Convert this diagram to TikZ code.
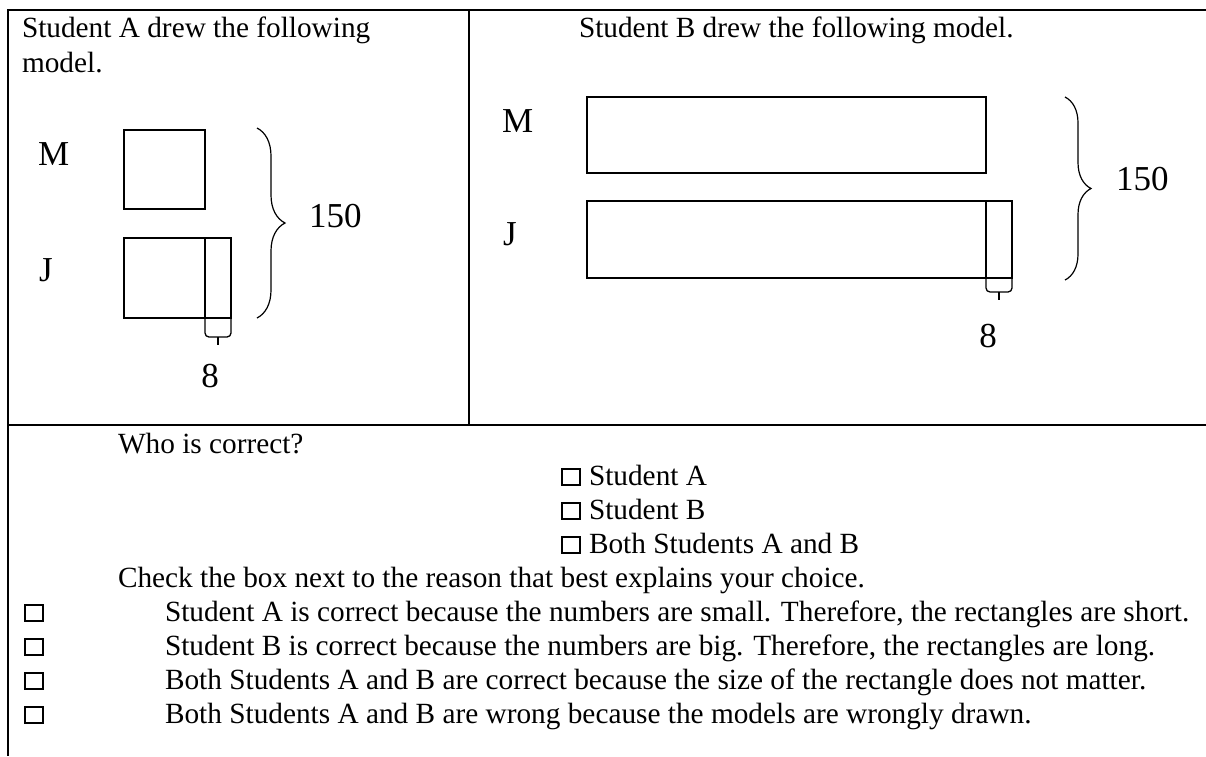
\documentclass[tikz,border=0pt]{standalone}
\usepackage{fontspec}
\setmainfont{Liberation Serif}
\usetikzlibrary{positioning,decorations.pathreplacing}

\begin{document}
\begin{tikzpicture}[x=1pt,y=-1pt,
  every node/.style={font=\fontsize{29.3}{34}\selectfont, inner sep=0pt, outer sep=0pt},
  txt/.style={anchor=base west},
  lbl/.style={font=\fontsize{35}{40}\selectfont},
  tbl/.style={line width=2pt},
  bar/.style={draw, line width=1.3pt, anchor=north west},
  brc/.style={line width=1.2pt, decorate, decoration={brace, amplitude=28pt}},
  smallbrc/.style={line width=1.3pt, rounded corners=4pt},
  chk/.style={draw, line width=2.3pt, minimum width=18pt, minimum height=16pt, anchor=south west}]
\useasboundingbox (0,0) rectangle (1206,756);

% table
\draw[tbl] (7,10) -- (1206,10);
\draw[tbl] (8,9) -- (8,756);
\draw[tbl] (469,10) -- (469,425);
\draw[tbl] (7,425) -- (1206,425);

% student A
\node[txt] (capA1) at (22,37) {Student A drew the following};
\node[txt] (capA2) at (22,72) {model.};
\node[txt, lbl] (lblMA) at (38,165) {M};
\node[txt, lbl] (lblJA) at (39,281) {J};
\node[bar, minimum width=81pt, minimum height=79pt] (mA) at (124,130) {};
\node[bar, minimum width=81pt, minimum height=80pt] (jA) at (124,238) {};
\node[bar, minimum width=26pt, minimum height=80pt] (jA8) at (jA.north east) {};
\coordinate (topA) at (257,128);
\coordinate (botA) at (257,318);
\draw[brc] (topA) -- (botA);
\node[txt, lbl] (sumA) at (309,227) {150};
\draw[smallbrc] (jA8.south west) -- ++(0,19) -- ++(26,0) -- (jA8.south east);
\draw[line width=2pt] ([yshift=-19pt]jA8.south) -- ++(0,8);
\node[lbl, anchor=base] (difA) at (210,387) {8};

% student B
\node[txt] (capB) at (579,37) {Student B drew the following model.};
\node[txt, lbl] (lblMB) at (502,132) {M};
\node[txt, lbl] (lblJB) at (503,245) {J};
\node[bar, minimum width=399pt, minimum height=76pt] (mB) at (587,97) {};
\node[bar, minimum width=399pt, minimum height=77pt] (jB) at (587,201) {};
\node[bar, minimum width=26pt, minimum height=77pt] (jB8) at (jB.north east) {};
\coordinate (topB) at (1065,97);
\coordinate (botB) at (1065,280);
\draw[brc, decoration={amplitude=26pt}] (topB) -- (botB);
\node[txt, lbl] (sumB) at (1116,190) {150};
\draw[smallbrc] (jB8.south west) -- ++(0,14) -- ++(26,0) -- (jB8.south east);
\draw[line width=2pt] ([yshift=-14pt]jB8.south) -- ++(0,8);
\node[lbl, anchor=base] (difB) at (988,347) {8};

% question
\node[txt] (who) at (118,453) {Who is correct?};
\foreach \t/\i in {{Student A}/0, {Student B}/1, {Both Students A and B}/2}{
  \pgfmathsetmacro\yy{485+34*\i}
  \node[chk] (opt\i) at (562,\yy) {};
  \node[txt] (optt\i) at (589,\yy) {\t};
}
\node[txt] (check) at (118,587) {Check the box next to the reason that best explains your choice.};
\foreach \t/\i in {
  {Student A is correct because the numbers are small. Therefore, the rectangles are short.}/0,
  {Student B is correct because the numbers are big. Therefore, the rectangles are long.}/1,
  {Both Students A and B are correct because the size of the rectangle does not matter.}/2,
  {Both Students A and B are wrong because the models are wrongly drawn.}/3%
  }{
  \pgfmathsetmacro\yy{621+34*\i}
  \node[chk] (rb\i) at (25,\yy) {};
  \node[txt] (rt\i) at (165,\yy) {\t};
}
\end{tikzpicture}
\end{document}
